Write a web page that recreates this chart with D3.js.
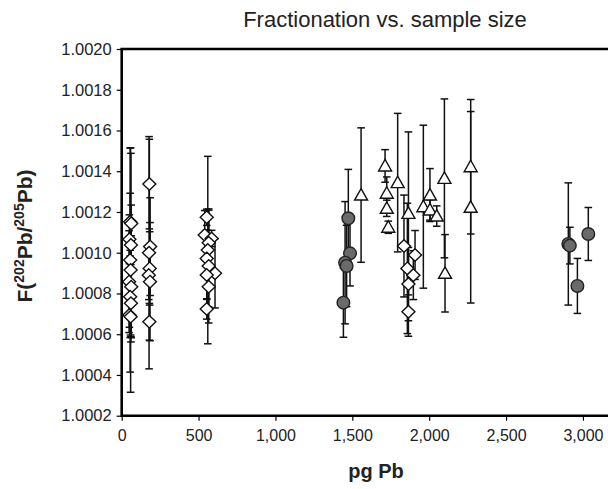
<!DOCTYPE html>
<html><head><meta charset="utf-8">
<script src="https://cdn.jsdelivr.net/npm/d3@7"></script>
<style>
body{margin:0;background:#fff}
svg{display:block}
text{font-family:"Liberation Sans",Arial,sans-serif}
</style>
</head><body>
<svg id="c" width="608" height="489"></svg>
<script>
const title = "Fractionation vs. sample size";
const xLabel = "pg Pb";
const xTicks = [0,500,1000,1500,2000,2500,3000];
const yTicks = [1.0002,1.0004,1.0006,1.0008,1.0010,1.0012,1.0014,1.0016,1.0018,1.0020];

// open diamonds
const diamondX = [55,62,50,60,55,58,48,62,55,60,50,58,
  180,185,178,182,176,184,180,
  553,540,585,566,560,553,566,607,553,566,553,
  1836,1908,1858,1897,1865,1865];
const diamondY = [1.001152,1.001144,1.001066,1.001038,1.000964,1.000915,1.000858,1.000833,1.000784,1.000752,1.000694,1.000686,
  1.001337,1.001030,1.001000,1.000923,1.000890,1.000858,1.000661,
  1.001174,1.001087,1.001070,1.001049,1.001013,1.000972,1.000935,1.000899,1.000891,1.000833,1.000724,
  1.001033,1.000989,1.000923,1.000890,1.000846,1.000710];
const diamondErr = [0.00014,0.00009,0.00012,0.00045,0.00055,0.0006,0.00025,0.00025,0.0002,0.00019,0.00006,0.00009,
  0.00022,0.00024,0.00057,0.00018,0.00012,0.00029,0.00009,
  0.00004,0.00012,0.00004,0.00016,0.00046,0.00014,0.00028,0.00017,0.00012,0.0001,0.00005,
  0.00025,0.00012,0.00032,0.00012,0.00018,0.00012];

// grey circles
const circleX = [1474,1485,1453,1463,1442,2905,2915,2964,3035];
const circleY = [1.001169,1.000997,1.000951,1.000935,1.000755,1.001043,1.001035,1.000837,1.001092];
const circleErr = [0.00024,0.00016,0.0003,0.0002,0.00017,0.0003,0.00009,0.000135,0.00013];

// open triangles
const triangleX = [1557,1713,1724,1724,1734,1795,1865,1962,2005,2005,2049,2099,2103,2270,2270];
const triangleY = [1.001283,1.001426,1.001292,1.001218,1.001125,1.001344,1.001193,1.001226,1.001283,1.00121,1.00118,1.001365,1.000899,1.001422,1.001223];
const triangleErr = [0.00033,0.00008,0.00008,0.00004,0.00003,0.00034,0.0004,0.0004,0.00013,0.00005,0.00005,0.00039,0.00019,0.00033,0.00047];

const svg = d3.select("#c");
const x = d3.scaleLinear().domain([0,3500]).range([121.7,659.8]);
const y = d3.scaleLinear().domain([1.0002,1.0020]).range([415.7,49]);

// axes
const yAxis = svg.append("g").attr("transform",`translate(${x(0)},0)`)
  .call(d3.axisLeft(y).tickValues(yTicks).tickFormat(d3.format(".4f")).tickSize(5).tickSizeOuter(0).tickPadding(5));
yAxis.select(".domain").remove();
yAxis.selectAll("line").attr("stroke","#000").attr("stroke-width",1.2);
yAxis.selectAll("text").attr("font-size",16.5).attr("fill","#222").style("font-family","'Liberation Sans',Arial,sans-serif");

const xAxis = svg.append("g").attr("transform",`translate(0,${y(1.0002)})`)
  .call(d3.axisBottom(x).tickValues(xTicks).tickFormat(d3.format(",")).tickSize(5).tickSizeOuter(0).tickPadding(9));
xAxis.select(".domain").remove();
xAxis.selectAll("line").attr("stroke","#000").attr("stroke-width",1.2);
xAxis.selectAll("text").attr("font-size",16).attr("fill","#222").style("font-family","'Liberation Sans',Arial,sans-serif");

// frame
svg.append("path")
  .attr("d",`M${x(3500)},${y(1.0020)}H${x(0)}V${y(1.0002)}H${x(3500)}`)
  .attr("fill","none").attr("stroke","#000").attr("stroke-width",2.6);

// titles
svg.append("text").attr("x",385).attr("y",27).attr("text-anchor","middle")
  .attr("font-size",22).attr("fill","#222").text(title);
svg.append("text").attr("x",376).attr("y",478).attr("text-anchor","middle")
  .attr("font-size",20).attr("font-weight","bold").attr("fill","#222").text(xLabel);
const yl = svg.append("text").attr("transform","translate(32,236) rotate(-90)")
  .attr("text-anchor","middle").attr("font-size",21).attr("font-weight","bold").attr("fill","#222");
yl.append("tspan").text("F(");
yl.append("tspan").attr("font-size",14).attr("dy",-8).text("202");
yl.append("tspan").attr("dy",8).text("Pb/");
yl.append("tspan").attr("font-size",14).attr("dy",-8).text("205");
yl.append("tspan").attr("dy",8).text("Pb)");

function series(xs, ys, es){ return xs.map((v,i)=>({x:v,y:ys[i],e:es[i]})); }
const diamonds = series(diamondX, diamondY, diamondErr);
const circles = series(circleX, circleY, circleErr);
const triangles = series(triangleX, triangleY, triangleErr);

function errorBars(data){
  const g = svg.append("g").attr("stroke","#111").attr("stroke-width",1.5).attr("fill","none");
  data.forEach(d=>{
    const cx = x(d.x), t = y(d.y+d.e), b = y(d.y-d.e);
    g.append("line").attr("x1",cx).attr("x2",cx).attr("y1",t).attr("y2",b);
    g.append("line").attr("x1",cx-3.8).attr("x2",cx+3.8).attr("y1",t).attr("y2",t);
    g.append("line").attr("x1",cx-3.8).attr("x2",cx+3.8).attr("y1",b).attr("y2",b);
  });
}
errorBars(diamonds); errorBars(circles); errorBars(triangles);

const diamondPath = "M0,-6.3L6.5,0L0,6.3L-6.5,0Z";
const trianglePath = "M0,-6.5L6.5,5L-6.5,5Z";
svg.append("g").selectAll("path").data(diamonds).join("path")
  .attr("d",diamondPath).attr("transform",d=>`translate(${x(d.x)},${y(d.y)})`)
  .attr("fill","#fff").attr("stroke","#111").attr("stroke-width",1.4);
svg.append("g").selectAll("circle").data(circles).join("circle")
  .attr("cx",d=>x(d.x)).attr("cy",d=>y(d.y)).attr("r",6.3)
  .attr("fill","#6a6a6a").attr("stroke","#222").attr("stroke-width",1.4);
svg.append("g").selectAll("path").data(triangles).join("path")
  .attr("d",trianglePath).attr("transform",d=>`translate(${x(d.x)},${y(d.y)})`)
  .attr("fill","#fff").attr("stroke","#111").attr("stroke-width",1.4);
</script>
</body></html>
